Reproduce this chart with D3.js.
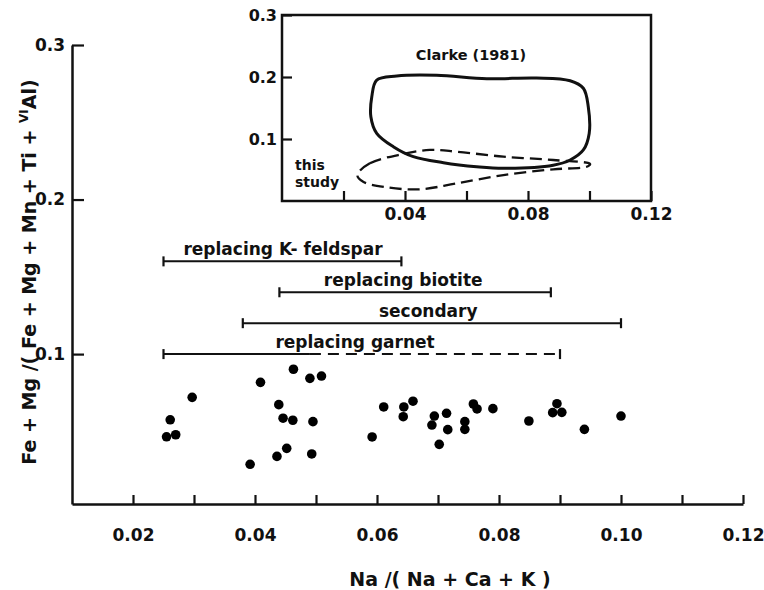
<!DOCTYPE html>
<html>
<head>
<meta charset="utf-8">
<script src="https://cdn.jsdelivr.net/npm/d3@7"></script>
<style>
    body { margin: 0; background: #fff; }
    svg text { font-family: "DejaVu Sans", sans-serif; font-weight: bold; fill: #111; }
</style>
</head>
<body>
<div id="chart"></div>
<script>
// analyses: Na/(Na+Ca+K) vs Fe+Mg/(Fe+Mg+Mn+Ti+VIAl)
const naRatio = [0.0463, 0.0490, 0.0509, 0.0409, 0.0297, 0.0439, 0.0611, 0.0261, 0.0446, 0.0462,
                 0.0495, 0.0255, 0.0270, 0.0592, 0.0452, 0.0436, 0.0493, 0.0392, 0.0644, 0.0659,
                 0.0643, 0.0694, 0.0714, 0.0690, 0.0716, 0.0702, 0.0744, 0.0744, 0.0758, 0.0764,
                 0.0790, 0.0849, 0.0895, 0.0888, 0.0903, 0.0940, 0.1000];
const feMgRatio = [0.0902, 0.0843, 0.0858, 0.0817, 0.0720, 0.0673, 0.0658, 0.0575, 0.0585, 0.0572,
                   0.0563, 0.0465, 0.0478, 0.0464, 0.0390, 0.0338, 0.0354, 0.0287, 0.0658, 0.0695,
                   0.0595, 0.0599, 0.0617, 0.0541, 0.0511, 0.0416, 0.0563, 0.0513, 0.0677, 0.0645,
                   0.0647, 0.0567, 0.0679, 0.0621, 0.0623, 0.0513, 0.0599];

// ranges of the textural groups
const rangeNames = ["replacing K- feldspar", "replacing biotite", "secondary", "replacing garnet"];
const rangeFrom = [0.025, 0.044, 0.038, 0.025];
const rangeTo = [0.064, 0.0885, 0.100, 0.090];
const rangeLevel = [0.16, 0.14, 0.12, 0.10];
const rangeLabelAt = [0.0446, 0.0643, 0.0684, 0.0564];
const rangeDashFrom = [null, null, null, 0.049];

const xTicks = [0.02, 0.03, 0.04, 0.05, 0.06, 0.07, 0.08, 0.09, 0.10, 0.11, 0.12];
const xLabels = [0.02, 0.04, 0.06, 0.08, 0.10, 0.12];
const yTicks = [0.1, 0.2, 0.3];

// inset: envelopes
const insetXTicks = [0.02, 0.04, 0.06, 0.08, 0.10, 0.12];
const insetXLabels = [0.04, 0.08, 0.12];
const insetYTicks = [0.1, 0.2, 0.3];
const clarkeX = [0.0308, 0.0373, 0.0503, 0.0666, 0.0828, 0.0937, 0.0980, 0.0996, 0.0999, 0.0980,
                 0.0937, 0.0882, 0.0720, 0.0633, 0.0525, 0.0427, 0.0362, 0.0308, 0.0289, 0.0292];
const clarkeY = [0.195, 0.2016, 0.2027, 0.1973, 0.1984, 0.194, 0.1818, 0.152, 0.109, 0.0823,
                 0.0661, 0.0576, 0.0527, 0.0553, 0.0618, 0.0715, 0.0876, 0.1092, 0.136, 0.168];
const studyX = [0.0245, 0.0286, 0.0394, 0.0481, 0.0568, 0.0720, 0.0882, 0.1002, 0.0991, 0.0882,
                0.0720, 0.0568, 0.0449, 0.0340, 0.0264];
const studyY = [0.0419, 0.0608, 0.0758, 0.0823, 0.0795, 0.0715, 0.0661, 0.0597, 0.0553, 0.0511,
                0.0419, 0.0285, 0.0189, 0.0221, 0.0311];

const width = 764, height = 590;

const svg = d3.select("#chart").append("svg")
    .attr("width", width)
    .attr("height", height);

// main chart scales
const x = d3.scaleLinear().domain([0.01, 0.12]).range([72, 743]);
const y = d3.scaleLinear().domain([0.003, 0.3]).range([504, 45]);

const fmt2 = d3.format(".2f");

const xAxis = svg.append("g")
    .attr("transform", "translate(0," + y(0.003) + ")")
    .call(d3.axisBottom(x)
        .tickValues(xTicks)
        .tickSizeInner(-9)
        .tickSizeOuter(0)
        .tickPadding(25)
        .tickFormat(d => xLabels.includes(d) ? fmt2(d) : ""));

const yAxis = svg.append("g")
    .attr("transform", "translate(" + x(0.01) + ",0)")
    .call(d3.axisLeft(y)
        .tickValues(yTicks)
        .tickSizeInner(-12)
        .tickSizeOuter(0)
        .tickPadding(7)
        .tickFormat(d3.format(".1f")));

[xAxis, yAxis].forEach(a => {
    a.select(".domain").attr("stroke", "#111").attr("stroke-width", 2.5);
    a.selectAll(".tick line").attr("stroke", "#111").attr("stroke-width", 2.2);
    a.selectAll("text").attr("font-size", 17).attr("fill", "#111")
        .attr("font-family", "DejaVu Sans").attr("font-weight", "bold");
});

// axis titles
svg.append("text")
    .attr("x", 450)
    .attr("y", 586)
    .attr("text-anchor", "middle")
    .attr("font-size", 19)
    .text("Na /( Na + Ca + K )");

const yTitle = svg.append("text")
    .attr("transform", "translate(36,272) rotate(-90)")
    .attr("text-anchor", "middle")
    .attr("font-size", 19);
yTitle.append("tspan").text("Fe + Mg /( Fe + Mg + Mn + Ti + ");
yTitle.append("tspan").attr("font-size", 12).attr("dy", -8).text("VI");
yTitle.append("tspan").attr("dy", 8).text("Al)");

// range bars
const ranges = rangeNames.map((name, i) => ({
    name: name, from: rangeFrom[i], to: rangeTo[i], level: rangeLevel[i],
    labelAt: rangeLabelAt[i], dashFrom: rangeDashFrom[i]
}));

const rg = svg.selectAll(".range")
    .data(ranges)
    .enter()
    .append("g")
    .attr("class", "range");

rg.append("line")
    .attr("x1", d => x(d.from))
    .attr("x2", d => x(d.dashFrom === null ? d.to : d.dashFrom))
    .attr("y1", d => y(d.level))
    .attr("y2", d => y(d.level))
    .attr("stroke", "#111")
    .attr("stroke-width", 2);

rg.filter(d => d.dashFrom !== null)
    .append("line")
    .attr("x1", d => x(d.dashFrom))
    .attr("x2", d => x(d.to))
    .attr("y1", d => y(d.level))
    .attr("y2", d => y(d.level))
    .attr("stroke", "#111")
    .attr("stroke-width", 2)
    .attr("stroke-dasharray", "11,7");

// end caps
rg.selectAll(".cap")
    .data(d => [d.from, d.to].map(v => ({ v: v, level: d.level })))
    .enter()
    .append("line")
    .attr("x1", d => x(d.v))
    .attr("x2", d => x(d.v))
    .attr("y1", d => y(d.level) - 5)
    .attr("y2", d => y(d.level) + 5)
    .attr("stroke", "#111")
    .attr("stroke-width", 2.2);

rg.append("text")
    .attr("x", d => x(d.labelAt))
    .attr("y", d => y(d.level) - 6)
    .attr("text-anchor", "middle")
    .attr("font-size", 17)
    .text(d => d.name);

// data points
svg.selectAll(".dot")
    .data(naRatio.map((v, i) => ({ na: v, fm: feMgRatio[i] })))
    .enter()
    .append("circle")
    .attr("class", "dot")
    .attr("cx", d => x(d.na))
    .attr("cy", d => y(d.fm))
    .attr("r", 4.8)
    .attr("fill", "#000");

// inset
const ix = d3.scaleLinear().domain([0, 0.12]).range([282, 651]);
const iy = d3.scaleLinear().domain([0, 0.3]).range([201, 15]);

const inset = svg.append("g");

inset.append("rect")
    .attr("x", ix(0))
    .attr("y", iy(0.3))
    .attr("width", ix(0.12) - ix(0))
    .attr("height", iy(0) - iy(0.3))
    .attr("fill", "#fff")
    .attr("stroke", "#111")
    .attr("stroke-width", 2.5);

const ixAxis = inset.append("g")
    .attr("transform", "translate(0," + iy(0) + ")")
    .call(d3.axisBottom(ix)
        .tickValues(insetXTicks)
        .tickSizeInner(-10)
        .tickSizeOuter(0)
        .tickPadding(7)
        .tickFormat(d => insetXLabels.includes(d) ? fmt2(d) : ""));

const iyAxis = inset.append("g")
    .attr("transform", "translate(" + ix(0) + ",0)")
    .call(d3.axisLeft(iy)
        .tickValues(insetYTicks)
        .tickSizeInner(-10)
        .tickSizeOuter(0)
        .tickPadding(5)
        .tickFormat(d3.format(".1f")));

[ixAxis, iyAxis].forEach(a => {
    a.select(".domain").remove();
    a.selectAll(".tick line").attr("stroke", "#111").attr("stroke-width", 2.2);
    a.selectAll("text").attr("font-size", 16).attr("fill", "#111")
        .attr("font-family", "DejaVu Sans").attr("font-weight", "bold");
});
ixAxis.selectAll("text").attr("font-size", 17);

const envelope = d3.line()
    .x(d => ix(d[0]))
    .y(d => iy(d[1]))
    .curve(d3.curveCatmullRomClosed);

inset.append("path")
    .attr("d", envelope(clarkeX.map((v, i) => [v, clarkeY[i]])))
    .attr("fill", "none")
    .attr("stroke", "#111")
    .attr("stroke-width", 3);

inset.append("path")
    .attr("d", envelope(studyX.map((v, i) => [v, studyY[i]])))
    .attr("fill", "none")
    .attr("stroke", "#111")
    .attr("stroke-width", 2.3)
    .attr("stroke-dasharray", "12,6");

inset.append("text")
    .attr("x", 471)
    .attr("y", 60)
    .attr("text-anchor", "middle")
    .attr("font-size", 14.5)
    .text("Clarke (1981)");

inset.append("text")
    .attr("x", 295)
    .attr("y", 170)
    .attr("font-size", 14)
    .text("this");

inset.append("text")
    .attr("x", 295)
    .attr("y", 187)
    .attr("font-size", 14)
    .text("study");
</script>
</body>
</html>
